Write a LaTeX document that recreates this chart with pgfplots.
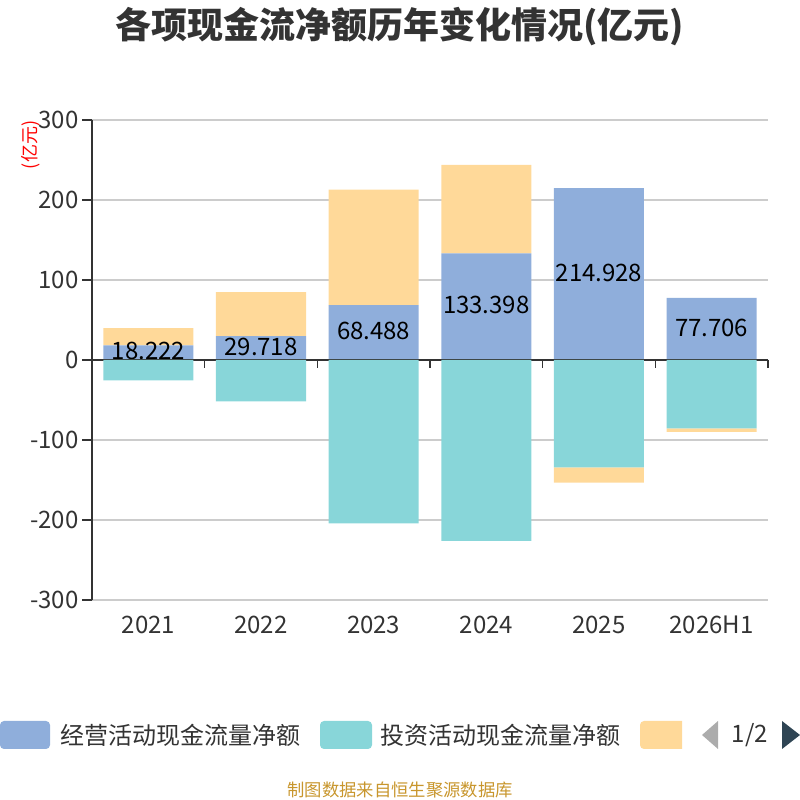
\documentclass[border=0pt]{standalone}
\usepackage{pgfplots}
\pgfplotsset{compat=1.18}
\usepackage{fontspec}
\setmainfont{Noto Sans CJK SC}
\definecolor{cblue}{HTML}{8FAEDB}
\definecolor{cteal}{HTML}{88D6D9}
\definecolor{corange}{HTML}{FFD999}
\definecolor{ctext}{HTML}{333333}
\definecolor{cgrid}{HTML}{CCCCCC}
\definecolor{cgold}{HTML}{C8962D}
\definecolor{cpager}{HTML}{2F4554}
\pgfplotsset{
  geom/.style={
    at={(69pt,150pt)}, anchor=south west,
    scale only axis, width=507pt, height=360pt,
    xmin=-0.5, xmax=5.5, ymin=-300, ymax=300,
    axis line style={draw=none},
    major tick style={draw=none},
    clip=false,
  },
  bare/.style={geom, xtick=\empty, ytick=\empty},
}
\begin{document}
\begin{tikzpicture}[x=0.75pt,y=0.75pt]
\path[use as bounding box] (0,0) rectangle (800,800);
% title
\node[font=\fontsize{27}{30}\selectfont\bfseries, text=ctext] at (400,773) {各项现金流净额历年变化情况(亿元)};
% unit
\node[rotate=90, text=red, font=\fontsize{13.5}{15}\selectfont] at (31,655) {(亿元)};
% positive stack
\begin{axis}[
  geom,
  ybar stacked, bar width=67.5pt,
  ytick={-300,-200,-100,0,100,200,300},
  xtick={0,1,2,3,4,5},
  xticklabels={2021,2022,2023,2024,2025,2026H1},
  ymajorgrids, grid style={color=cgrid, line width=0.9pt},
  tick label style={font=\fontsize{18}{21}\selectfont, text=ctext},
  yticklabel style={xshift=-6.5pt},
  xticklabel style={yshift=-8.5pt},
  /pgf/number format/assume math mode=true,
]
\addplot[fill=cblue, draw=none] coordinates {(0,18.222) (1,29.718) (2,68.488) (3,133.398) (4,214.928) (5,77.706)};
\addplot[fill=corange, draw=none] coordinates {(0,21.5) (1,55.1) (2,144.5) (3,110.6) (4,0) (5,0)};
\end{axis}
% value labels
\begin{axis}[bare]
\addplot[draw=none, mark=none, nodes near coords, point meta=explicit symbolic,
  every node near coord/.append style={anchor=center, yshift=1pt, text=black, font=\fontsize{18}{21}\selectfont}]
  coordinates {(0,9.111)[18.222] (1,14.859)[29.718] (2,34.244)[68.488] (3,66.699)[133.398] (4,107.464)[214.928] (5,38.853)[77.706]};
\end{axis}
% negative stack
\begin{axis}[bare, ybar stacked, bar width=67.5pt]
\addplot[fill=cteal, draw=none] coordinates {(0,-25.6) (1,-51.7) (2,-204.1) (3,-226.0) (4,-134.3) (5,-85.5)};
\addplot[fill=corange, draw=none] coordinates {(0,0) (1,0) (2,0) (3,0) (4,-19.0) (5,-4.2)};
% axes
\draw[ctext, line width=1.1pt] (axis cs:-0.5,-300) -- (axis cs:-0.5,300);
\draw[ctext, line width=1.1pt] (axis cs:-0.5,0) -- (axis cs:5.5,0);
\draw[ctext, line width=1.1pt] (axis cs:-0.5,300) -- ++(-7.5pt,0pt);
\draw[ctext, line width=1.1pt] (axis cs:-0.5,200) -- ++(-7.5pt,0pt);
\draw[ctext, line width=1.1pt] (axis cs:-0.5,100) -- ++(-7.5pt,0pt);
\draw[ctext, line width=1.1pt] (axis cs:-0.5,0) -- ++(-7.5pt,0pt);
\draw[ctext, line width=1.1pt] (axis cs:-0.5,-100) -- ++(-7.5pt,0pt);
\draw[ctext, line width=1.1pt] (axis cs:-0.5,-200) -- ++(-7.5pt,0pt);
\draw[ctext, line width=1.1pt] (axis cs:-0.5,-300) -- ++(-7.5pt,0pt);
\draw[ctext, line width=1.1pt] (axis cs:0.5,0) -- ++(0pt,-6pt);
\draw[ctext, line width=1.1pt] (axis cs:1.5,0) -- ++(0pt,-6pt);
\draw[ctext, line width=1.1pt] (axis cs:2.5,0) -- ++(0pt,-6pt);
\draw[ctext, line width=1.1pt] (axis cs:3.5,0) -- ++(0pt,-6pt);
\draw[ctext, line width=1.1pt] (axis cs:4.5,0) -- ++(0pt,-6pt);
\draw[ctext, line width=1.1pt] (axis cs:5.5,0) -- ++(0pt,-6pt);
\end{axis}
% legend
\fill[cblue, rounded corners=3pt] (0,51) rectangle (50,79);
\node[anchor=west, inner sep=0, text=ctext, font=\fontsize{18}{21}\selectfont] at (60,65) {经营活动现金流量净额};
\fill[cteal, rounded corners=3pt] (320,51) rectangle (372,79);
\node[anchor=west, inner sep=0, text=ctext, font=\fontsize{18}{21}\selectfont] at (380,65) {投资活动现金流量净额};
\begin{scope}
\clip (630,40) rectangle (682,90);
\fill[corange, rounded corners=3pt] (640,51) rectangle (692,79);
\end{scope}
\fill[gray!65] (718,79) -- (702,65) -- (718,51) -- cycle;
\node[text=ctext, font=\fontsize{18}{21}\selectfont, inner sep=0] at (750,65) {1/2};
\fill[cpager] (782,79) -- (800,65) -- (782,51) -- cycle;
% footer
\node[text=cgold, font=\fontsize{13}{15}\selectfont] at (400,10) {制图数据来自恒生聚源数据库};
\end{tikzpicture}
\end{document}
